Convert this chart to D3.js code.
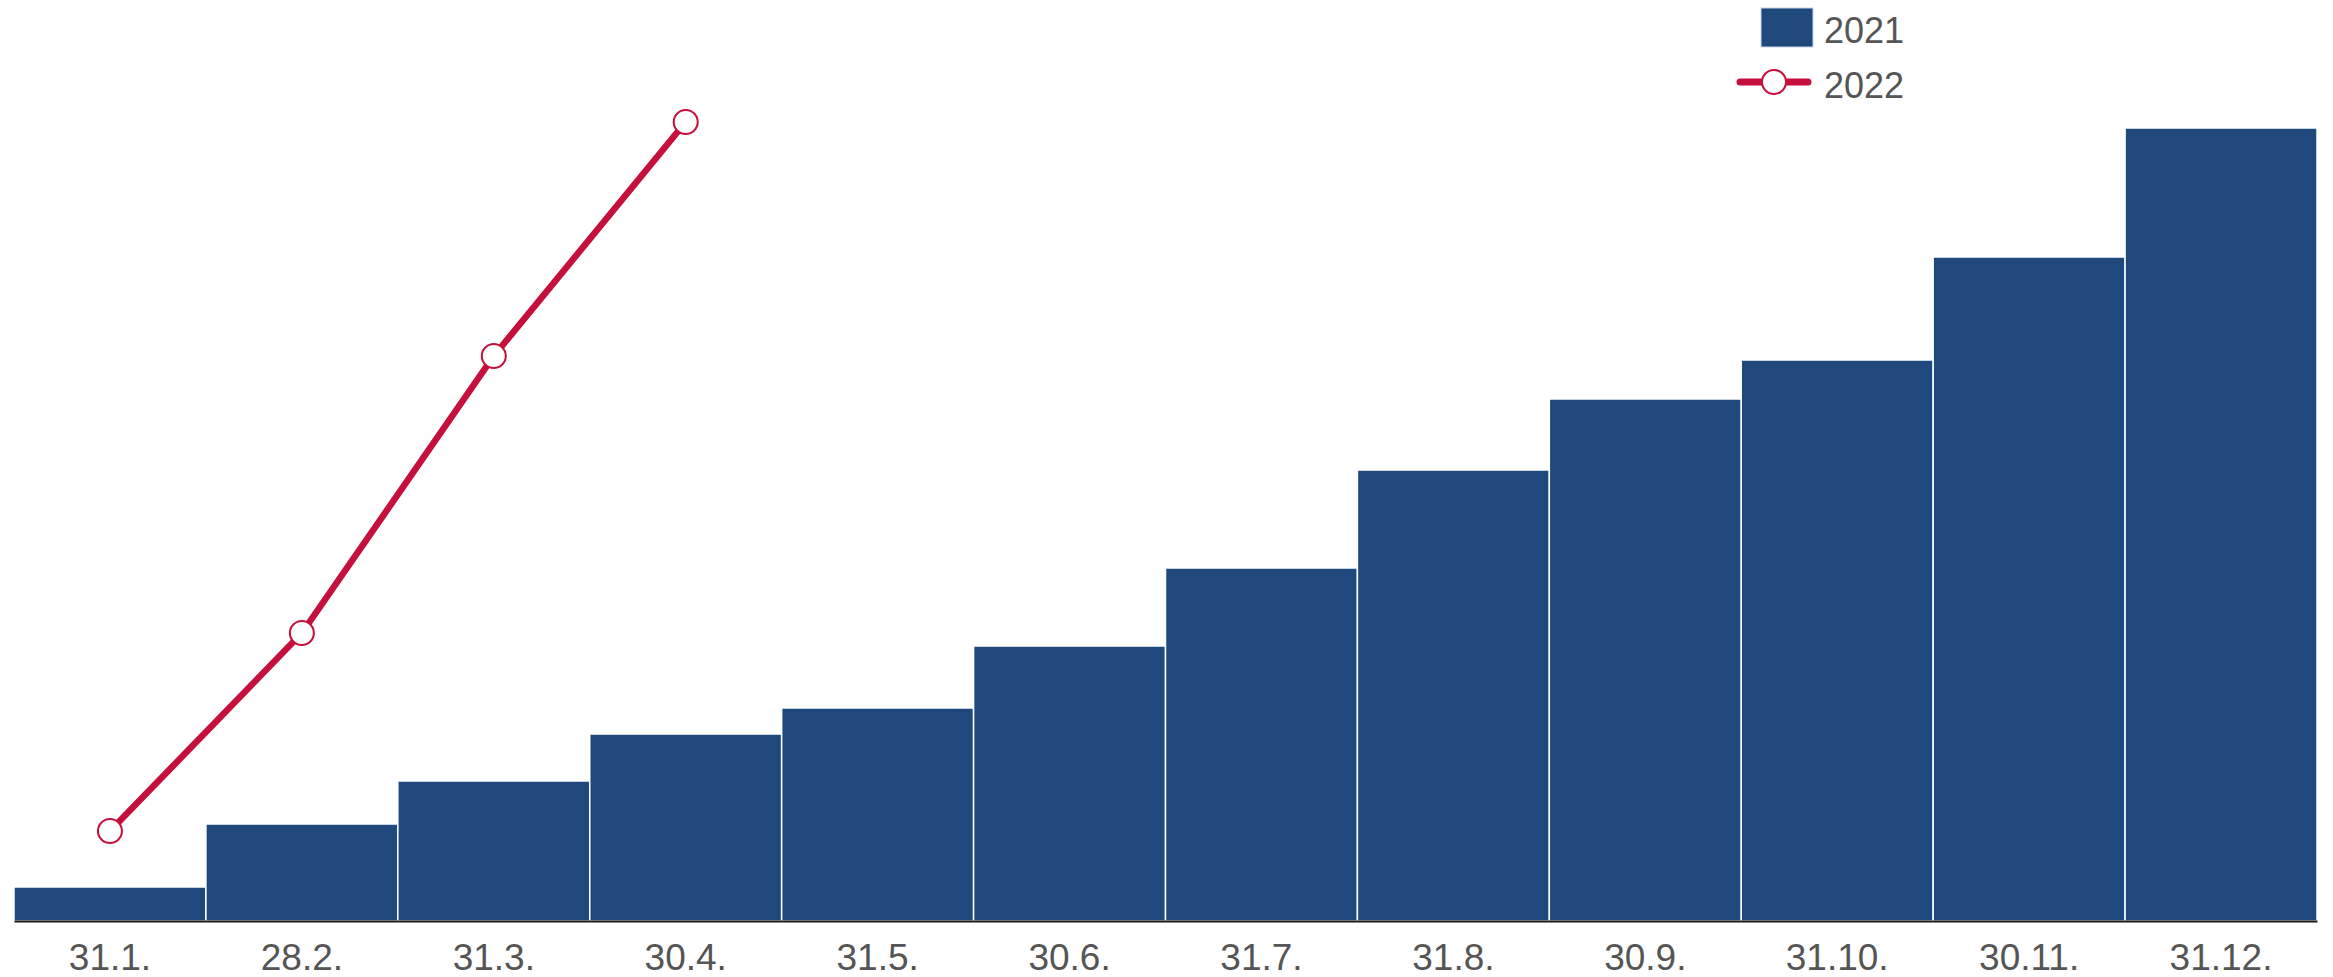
<!DOCTYPE html>
<html>
<head>
<meta charset="utf-8">
<script src="https://cdn.jsdelivr.net/npm/d3@7"></script>
<style>
  html, body { margin: 0; padding: 0; background: #fff; }
  svg { display: block; font-family: "Liberation Sans", Arial, sans-serif; }
</style>
</head>
<body>
<svg id="chart" width="2333" height="977"></svg>
<script>
const categories = ["31.1.", "28.2.", "31.3.", "30.4.", "31.5.", "30.6.", "31.7.", "31.8.", "30.9.", "31.10.", "30.11.", "31.12."];
const values2021 = [34, 97, 140, 187, 213, 275, 353, 451, 522, 561, 664, 793];
const values2022 = [90, 288, 565, 799];
const seriesNames = ["2021", "2022"];

const barColor = "#1f497d";
const lineColor = "#c50f3c";

const svg = d3.select("#chart");
const margin = { left: 14, right: 16, top: 21, bottom: 56 };
const W = 2333, H = 977;

const x = d3.scaleBand().domain(categories).range([margin.left, W - margin.right]).padding(0);
const y = d3.scaleLinear().domain([0, 900]).range([H - margin.bottom, H - margin.bottom - 900]);

// bars
svg.append("g").selectAll("rect")
  .data(values2021)
  .join("rect")
  .attr("x", (d, i) => x(categories[i]))
  .attr("y", d => y(d))
  .attr("width", x.bandwidth())
  .attr("height", d => y(0) - y(d))
  .attr("fill", barColor)
  .attr("stroke", "#fff")
  .attr("stroke-width", 1.5);

// axis
const axis = svg.append("g")
  .attr("transform", `translate(0,${y(0)})`)
  .call(d3.axisBottom(x).tickSize(0));
axis.select(".domain").attr("stroke", "#1a1a1a").attr("stroke-width", 2);
axis.selectAll("text")
  .attr("y", 49)
  .attr("dy", null)
  .attr("fill", "#555")
  .attr("font-size", 37)
  .attr("font-family", "'Liberation Sans', Arial, sans-serif");

// line
const line = d3.line()
  .x((d, i) => x(categories[i]) + x.bandwidth() / 2)
  .y(d => y(d));
svg.append("path")
  .datum(values2022)
  .attr("d", line)
  .attr("fill", "none")
  .attr("stroke", lineColor)
  .attr("stroke-width", 6.5);
svg.append("g").selectAll("circle")
  .data(values2022)
  .join("circle")
  .attr("cx", (d, i) => x(categories[i]) + x.bandwidth() / 2)
  .attr("cy", d => y(d))
  .attr("r", 12)
  .attr("fill", "#fff")
  .attr("stroke", lineColor)
  .attr("stroke-width", 2);

// legend
const lg = svg.append("g");
lg.append("rect")
  .attr("x", 1761).attr("y", 8).attr("width", 52).attr("height", 39)
  .attr("fill", barColor).attr("stroke", "#c8d3e0").attr("stroke-width", 1);
lg.append("text")
  .attr("x", 1824).attr("y", 43)
  .attr("font-size", 36).attr("fill", "#555")
  .text(seriesNames[0]);
lg.append("line")
  .attr("x1", 1740).attr("x2", 1808).attr("y1", 82).attr("y2", 82)
  .attr("stroke", lineColor).attr("stroke-width", 7).attr("stroke-linecap", "round");
lg.append("circle")
  .attr("cx", 1774).attr("cy", 82).attr("r", 12)
  .attr("fill", "#fff").attr("stroke", lineColor).attr("stroke-width", 2);
lg.append("text")
  .attr("x", 1824).attr("y", 98)
  .attr("font-size", 36).attr("fill", "#555")
  .text(seriesNames[1]);
</script>
</body>
</html>
